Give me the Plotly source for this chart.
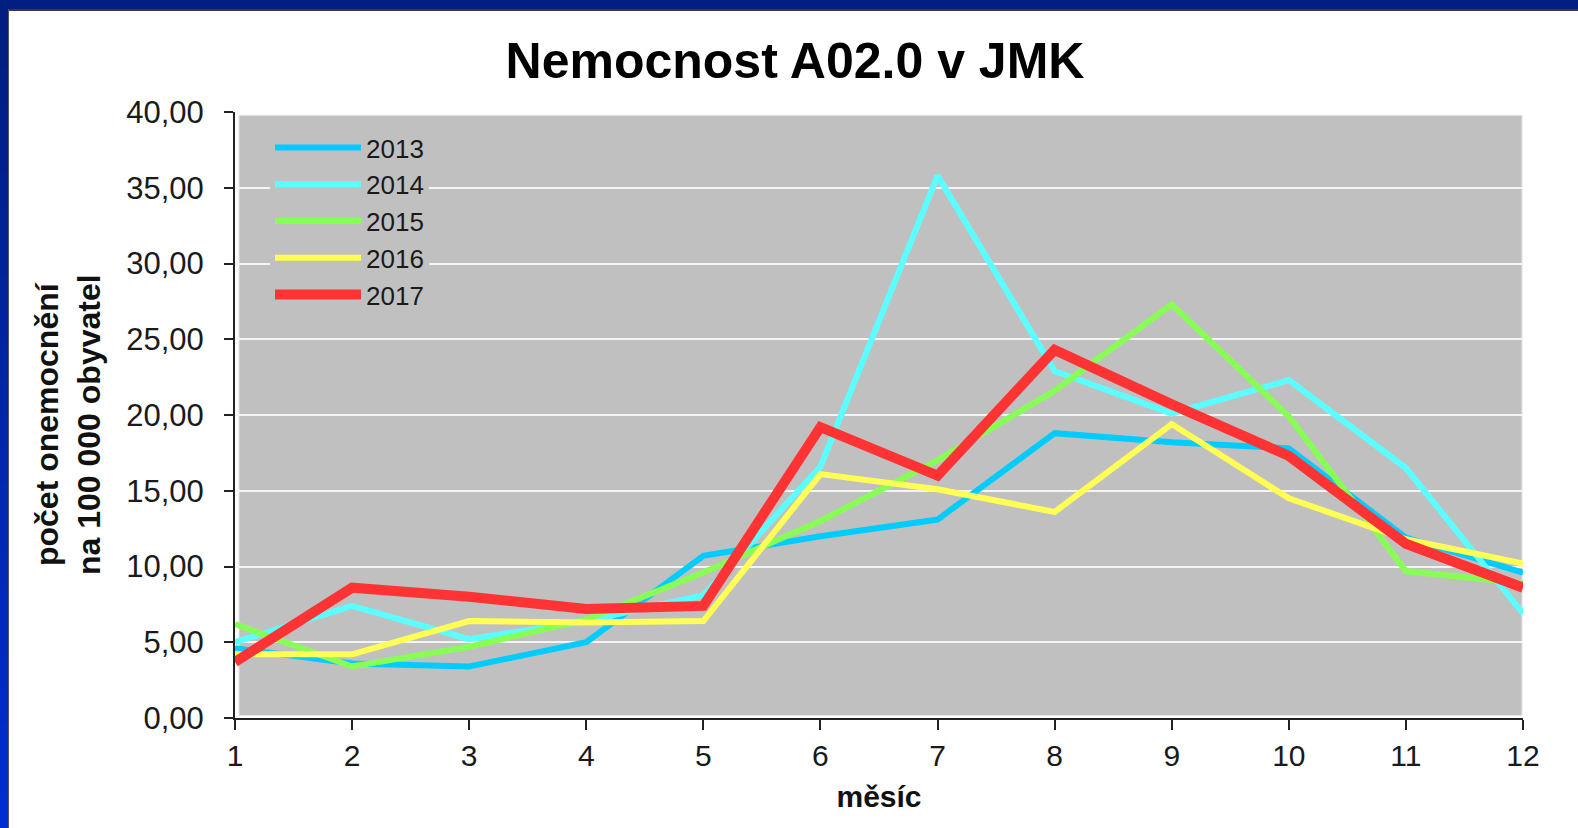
import plotly.graph_objects as go

months = [1, 2, 3, 4, 5, 6, 7, 8, 9, 10, 11, 12]
years = ["2013", "2014", "2015", "2016", "2017"]
v2013 = [4.6, 3.6, 3.4, 5.0, 10.7, 12.0, 13.1, 18.8, 18.2, 17.8, 11.9, 9.6]
v2014 = [5.0, 7.4, 5.2, 6.4, 8.1, 16.6, 35.8, 22.9, 20.1, 22.3, 16.5, 6.9]
v2015 = [6.2, 3.4, 4.7, 6.5, 9.6, 13.0, 17.0, 21.6, 27.3, 19.9, 9.7, 8.9]
v2016 = [4.2, 4.2, 6.4, 6.3, 6.4, 16.1, 15.1, 13.6, 19.4, 14.5, 11.8, 10.2]
v2017 = [3.7, 8.6, 8.0, 7.2, 7.4, 19.2, 16.0, 24.3, 20.7, 17.3, 11.5, 8.6]
values = [v2013, v2014, v2015, v2016, v2017]
colors = ["#00CCFF", "#5CFFFF", "#88FF55", "#FFFF55", "#FF3333"]
widths = [6, 6, 6, 6, 10]

title_text = "Nemocnost A02.0 v JMK"
x_title = "měsíc"
y_title = "počet onemocnění<br>na 100 000 obyvatel"

W, H = 1578, 828
L, R, T, B = 235, 55, 112, 110
PW = W - L - R
PH = H - T - B
FONT = "Liberation Sans, Arial, sans-serif"

fig = go.Figure()
for name, vals, c, w in zip(years, values, colors, widths):
    fig.add_trace(go.Scatter(x=months, y=vals, mode="lines", name=name,
                             line=dict(color=c, width=w)))

shapes = []
# gray plot area, slightly inset from the axes
shapes.append(dict(type="rect", xref="x domain", yref="y domain",
                   x0=4 / PW, x1=1 - 1 / PW, y0=2.5 / PH, y1=1 - 3.3 / PH,
                   fillcolor="#C0C0C0", line=dict(color="#E4E4E4", width=1),
                   layer="below"))
# top navy border
shapes.append(dict(type="rect", xref="paper", yref="paper", xsizemode="pixel", ysizemode="pixel",
                   xanchor=0, yanchor=1, x0=-L, x1=W - L, y0=T, y1=T - 9,
                   fillcolor="#001F80", line=dict(width=0), layer="below"))
shapes.append(dict(type="rect", xref="paper", yref="paper", xsizemode="pixel", ysizemode="pixel",
                   xanchor=0, yanchor=1, x0=-L + 7, x1=W - L, y0=T - 9, y1=T - 11,
                   fillcolor="#3A3A3A", line=dict(width=0), layer="below"))
# left gradient border
n = 24
for i in range(n):
    f = i / (n - 1)
    g = int(0x1F + (0x2E - 0x1F) * f)
    b = int(0x80 + (0xD0 - 0x80) * f)
    ytop = T - (H / n) * i
    ybot = T - (H / n) * (i + 1) - 1
    shapes.append(dict(type="rect", xref="paper", yref="paper", xsizemode="pixel", ysizemode="pixel",
                       xanchor=0, yanchor=1, x0=-L, x1=-L + 8, y0=ytop, y1=ybot,
                       fillcolor="rgb(0,%d,%d)" % (g, b), line=dict(width=0), layer="below"))
shapes.append(dict(type="rect", xref="paper", yref="paper", xsizemode="pixel", ysizemode="pixel",
                   xanchor=0, yanchor=1, x0=-L + 8, x1=-L + 9, y0=T - 9, y1=T - H,
                   fillcolor="#555555", line=dict(width=0), layer="below"))

annotations = [
    dict(text=y_title, textangle=-90, xref="paper", yref="paper",
         x=0, y=0.5, xanchor="center", yanchor="middle",
         xshift=-(L - 68), yshift=-10, showarrow=False,
         font=dict(size=32, family=FONT, color="#111111", weight="bold")),
]

fig.update_layout(
    width=W, height=H,
    margin=dict(l=L, r=R, t=T, b=B, pad=0),
    paper_bgcolor="white", plot_bgcolor="white",
    separators=", ",
    font=dict(family=FONT, color="#1A1A1A"),
    title=dict(text=title_text, x=0.5 + 6 / W, xref="container", xanchor="center",
               y=1 - 60 / H, yref="container", yanchor="middle",
               font=dict(size=50, family=FONT, color="black", weight="bold")),
    showlegend=True,
    legend=dict(x=35 / PW, y=1 - 12 / PH, xanchor="left", yanchor="top",
                bgcolor="#C0C0C0", borderwidth=0, itemwidth=86,
                font=dict(size=26, family=FONT, color="#1A1A1A"),
                tracegroupgap=0),
    shapes=shapes,
    annotations=annotations,
    xaxis=dict(range=[1, 12], tickmode="array", tickvals=months,
               ticktext=[str(m) for m in months],
               showgrid=False, zeroline=False,
               showline=True, linecolor="#222222", linewidth=2,
               ticks="outside", ticklen=10, tickwidth=2, tickcolor="#222222",
               tickfont=dict(size=30, family=FONT, color="#1A1A1A"),
               title=dict(text=x_title, standoff=15,
                          font=dict(size=30, family=FONT, color="#111111", weight="bold")),
               automargin=False),
    yaxis=dict(range=[0, 40], dtick=5, tickformat=".2f",
               showgrid=True, gridcolor="#F4F4F4", gridwidth=2, zeroline=False,
               showline=True, linecolor="#222222", linewidth=2,
               ticks="outside", ticklen=9, tickwidth=2, tickcolor="#222222",
               ticklabelstandoff=14,
               tickfont=dict(size=31, family=FONT, color="#1A1A1A"),
               automargin=False),
)

fig.write_html("out.html", config={"displayModeBar": False},
               post_script="document.body.style.margin='0px';document.body.style.overflow='hidden';")
